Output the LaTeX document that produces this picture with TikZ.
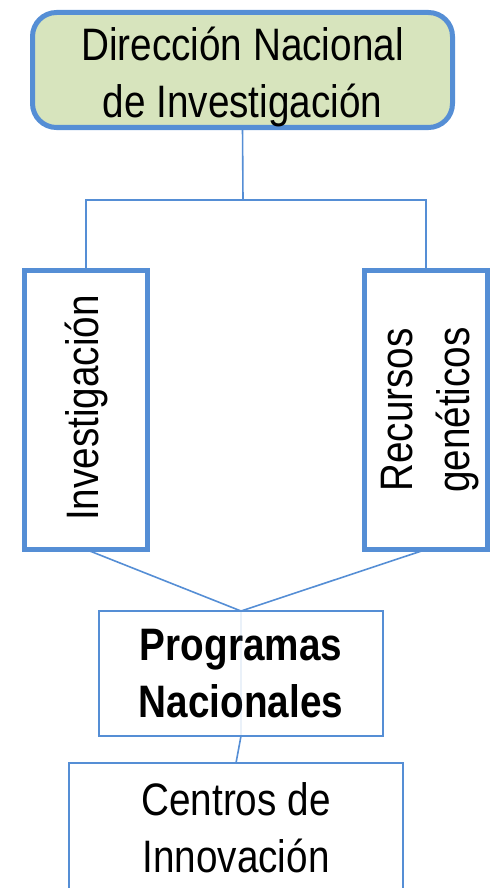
\documentclass[tikz,border=0pt]{standalone}
\usepackage{fontspec}
\setmainfont{Liberation Sans}[FakeStretch=0.85]
\usetikzlibrary{positioning}

\definecolor{orgblue}{HTML}{558ED5}
\definecolor{orggreen}{HTML}{D7E4BD}

\tikzset{
  headbox/.style={draw=orgblue, fill=orggreen, line width=2.5pt, rounded corners=12pt,
    minimum width=210pt, minimum height=57.5pt, outer sep=0pt},
  sidebox/.style={draw=orgblue, fill=white, line width=2.4pt,
    minimum width=61.5pt, minimum height=139.5pt, outer sep=0pt},
  thinbox/.style={draw=orgblue, fill=white, line width=1pt, align=center,
    inner sep=0pt, outer sep=0pt},
  conn/.style={draw=orgblue, line width=0.8pt}
}

\begin{document}
\begin{tikzpicture}[x=0.5pt, y=-0.5pt, font=\fontsize{22.75}{28.5}\selectfont]
    \clip (0,0) rectangle (491,888);

    \coordinate (c01) at (242.5,70);
    \coordinate (c02) at (86,410);
    \coordinate (c03) at (426,410);
    \coordinate (c04) at (241,673.5);
    \coordinate (c05) at (236,763);
    \coordinate (f01) at (243,200);

    % connectors first, boxes on top
    \node[headbox] (dir) at (c01) {};
    \node[sidebox] (inv) at (c02) {};
    \node[sidebox] (rec) at (c03) {};

    \draw[conn] (dir.south) -- (f01);
    \draw[conn] (inv.north) |- (f01) -| (rec.north);

    \node[thinbox, minimum width=142pt, minimum height=62.5pt] (prog) at (c04)
      {\bfseries Programas\\\bfseries Nacionales};
    \node[thinbox, anchor=north, minimum width=167pt, minimum height=65pt] (cen) at (c05)
      {Centros de\\Innovación};

    \draw[conn] (inv.south) -- (prog.north) -- (rec.south);
    \draw[conn, draw opacity=0.12] (prog.north) -- (prog.south);
    \draw[conn] (prog.south) -- (cen.north);

    \node[yshift=-3.5pt, align=center] (dirtext) at (dir.center) {Dirección Nacional\\de Investigación};
    \node[rotate=90, xshift=1pt] (invtext) at (inv.center) {Investigación};
    \node[rotate=90, align=center, yshift=-2pt] (rectext) at (rec.center) {Recursos\\genéticos};
\end{tikzpicture}
\end{document}
